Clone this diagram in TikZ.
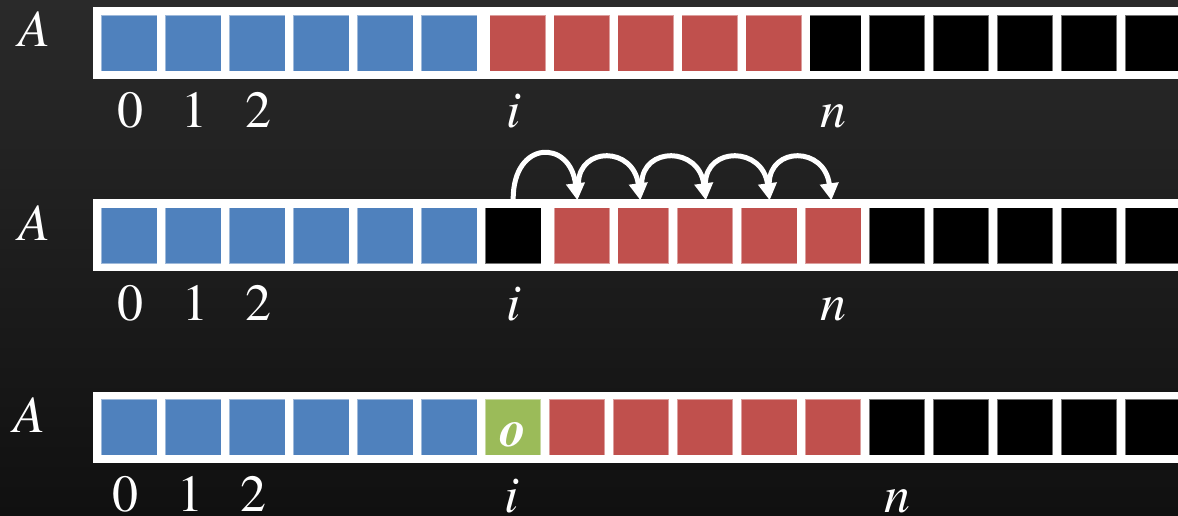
\documentclass[tikz,border=0pt]{standalone}
\usepackage{fontspec}
\newfontfamily\termes{texgyretermes}[Extension=.otf, UprightFont=*-regular, ItalicFont=*-italic, BoldFont=*-bold, BoldItalicFont=*-bolditalic]
\usetikzlibrary{arrows.meta}
\definecolor{cblue}{RGB}{79,129,189}
\definecolor{cred}{RGB}{192,80,77}
\definecolor{cgreen}{RGB}{155,187,89}
\definecolor{bgtop}{RGB}{42,42,42}
\definecolor{bgbot}{RGB}{16,16,16}
\begin{document}
\begin{tikzpicture}[x=1pt,y=-1pt,
  cell/.style={rectangle, anchor=north west, inner sep=0pt, minimum height=56pt,
               draw=white, draw opacity=0.45, line width=0.8pt},
  band/.style={fill=white},
  lbl/.style={text=white, anchor=base, inner sep=0pt, text depth=0pt,
              font=\termes\fontsize{52}{60}\selectfont},
  hop/.style={draw=white, line width=5pt, -{Triangle[length=17pt,width=18pt]}}]
\useasboundingbox (0,0) rectangle (1178,516);
\clip (0,0) rectangle (1178,516);
\fill[top color=bgtop, bottom color=bgbot] (0,0) rectangle (1178,516);

% white bands
\fill[band] (92.7,7) rectangle (1200,79);
\fill[band] (92.7,199.3) rectangle (1200,270.7);
\fill[band] (92.7,391.7) rectangle (1200,462.7);

% row 1
\foreach \x/\w/\c [count=\k] in {100.7/56/cblue,164.7/56/cblue,228.7/56/cblue,292.7/56/cblue,356.7/56/cblue,420.7/56/cblue,
  489.3/56/cred,553.3/56/cred,617.3/56/cred,681.3/56/cred,745.3/56/cred,
  809.3/51.5/black,868.7/55.6/black,932.7/55.6/black,996.7/55.6/black,1060.7/55.6/black,1124.7/55.6/black}
  \node[cell, fill=\c, minimum width=\w pt] (r1c\k) at (\x,15) {};

% row 2
\foreach \x/\w/\c [count=\k] in {100.7/56/cblue,164.7/56/cblue,228.7/56/cblue,292.7/56/cblue,356.7/56/cblue,420.7/56/cblue,
  485/55.5/black,553.7/55.6/cred,617.3/51/cred,676.7/55.6/cred,741/55.5/cred,804.7/55.8/cred,
  868.7/55.6/black,932.7/55.6/black,996.7/55.6/black,1060.7/55.6/black,1124.7/55.6/black}
  \node[cell, fill=\c, minimum width=\w pt] (r2c\k) at (\x,207.3) {};

% row 3
\foreach \x/\w/\c [count=\k] in {100.7/56/cblue,164.7/56/cblue,228.7/56/cblue,292.7/56/cblue,356.7/56/cblue,420.7/56/cblue,
  485/55.3/cgreen,549/55.3/cred,612.7/55.5/cred,676.7/55.5/cred,741/55.5/cred,805/55.3/cred,
  868.7/55.6/black,932.7/55.6/black,996.7/55.6/black,1060.7/55.6/black,1124.7/55.6/black}
  \node[cell, fill=\c, minimum width=\w pt] (r3c\k) at (\x,399) {};

% shifting arrows
\draw[hop] ([yshift=8pt]r2c7.north) .. controls +(0,-60) and +(-7,-61) .. ([xshift=-4.5pt,yshift=7pt]r2c8.north);
\draw[hop] ([xshift=-3.5pt,yshift=24pt]r2c8.north) .. controls +(1,-37) and +(-7,-54) .. ([xshift=-2.8pt,yshift=7pt]r2c9.north);
\draw[hop] ([xshift=-1.5pt,yshift=24pt]r2c9.north) .. controls +(1,-37) and +(-7,-54) .. ([xshift=1pt,yshift=7pt]r2c10.north);
\draw[hop] ([xshift=0.5pt,yshift=24pt]r2c10.north) .. controls +(1,-37) and +(-7,-54) .. ([xshift=0.5pt,yshift=7pt]r2c11.north);
\draw[hop] ([yshift=24pt]r2c11.north) .. controls +(1,-37) and +(-7,-54) .. ([xshift=-1.6pt,yshift=7pt]r2c12.north);

% labels row 1
\node[lbl] (A1) at (34,46.7) {\itshape A};
\node[lbl] (z1) at (130.5,128) {0};
\node[lbl] (o1) at (194,128) {1};
\node[lbl] (t1) at (258.5,128) {2};
\node[lbl] (i1) at (514,128) {\itshape i};
\node[lbl] (n1) at (833,128) {\itshape n};

% labels row 2
\node[lbl] (A2) at (34,240) {\itshape A};
\node[lbl] (z2) at (130.8,320) {0};
\node[lbl] (o2) at (195,320) {1};
\node[lbl] (t2) at (258.3,320) {2};
\node[lbl] (i2) at (514,320.5) {\itshape i};
\node[lbl] (n2) at (833,320) {\itshape n};

% labels row 3
\node[lbl] (A3) at (29,432) {\itshape A};
\node[lbl] (z3) at (125.7,511) {0};
\node[lbl] (o3) at (190,511) {1};
\node[lbl] (t3) at (253.6,511) {2};
\node[lbl] (i3) at (512,512) {\itshape i};
\node[lbl] (n3) at (897,512) {\itshape n};
\node[lbl] (oo) at ([yshift=-19.5pt]r3c7.center) {\bfseries\itshape o};
\end{tikzpicture}
\end{document}
